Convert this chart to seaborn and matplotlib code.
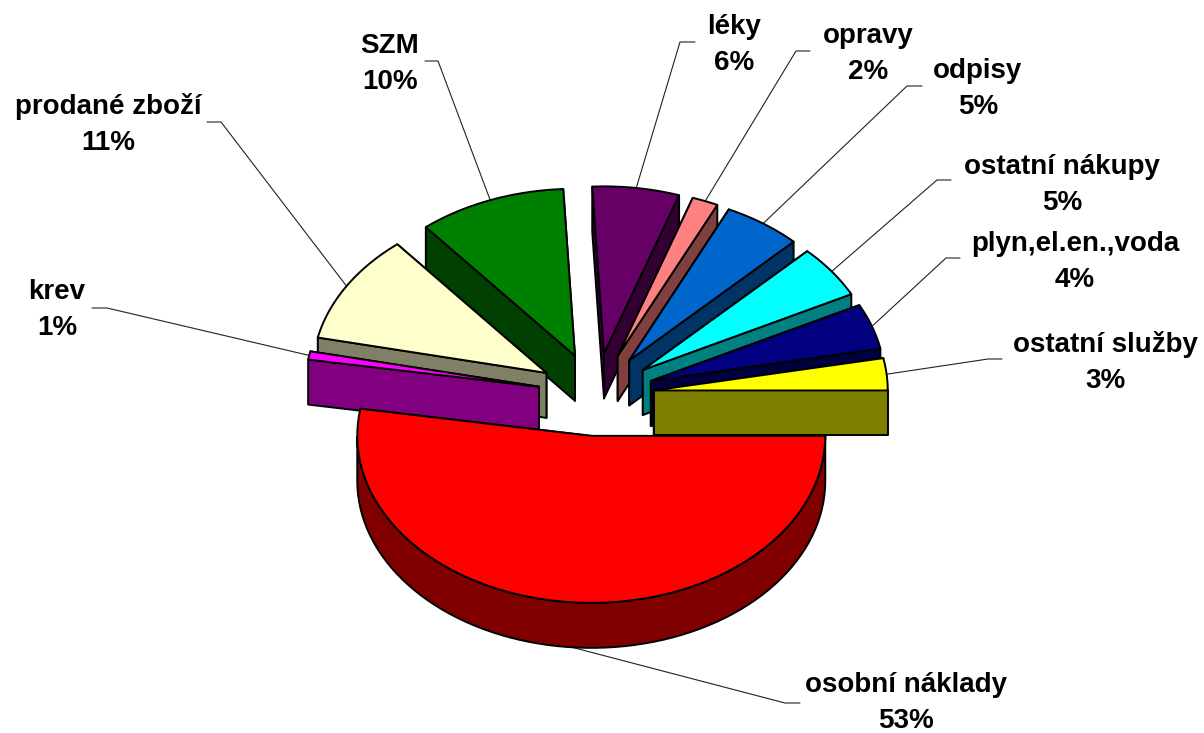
import numpy as np
import matplotlib
matplotlib.use("Agg")
import matplotlib.pyplot as plt
import seaborn as sns

# cost shares in %, clockwise from the east side of the pie
categories = ["osobní náklady", "krev", "prodané zboží", "SZM", "léky", "opravy",
              "odpisy", "ostatní nákupy", "plyn,el.en.,voda", "ostatní služby"]
shares = [52.6, 0.8, 10.6, 10.2, 6.0, 1.8, 5.4, 5.1, 4.4, 3.1]
top_colors = ["#FF0000", "#FF00FF", "#FFFFCC", "#008000", "#660066", "#FF8080",
              "#0066CC", "#00FFFF", "#000080", "#FFFF00"]

# layout, in pixels of the output picture
CX, CY = 596, 394.5    # pie centre before the slices are pulled out
RX, RY = 234, 167      # radii of the top ellipse
EX, EY = 58, 41.5      # how far each slice is pulled out
DEPTH = 45
label_pos = [(906, 703), (57, 310), (108, 124), (390, 64), (734, 45),
             (868, 54), (978, 89), (1062, 185), (1075, 262), (1105, 363)]
elbows = [(785, 703), (107, 308), (221, 122), (438, 61), (680, 42),
          (796, 51), (907, 86), (937, 180), (946, 258), (988, 359)]
ticks = [(800, 703), (92, 308), (207, 122), (425, 61), (695, 42),
         (810, 51), (922, 86), (951, 180), (960, 258), (1002, 359)]

sns.set_theme(style="white")
plt.rcParams["font.family"] = ["Liberation Sans", "DejaVu Sans"]
palette = sns.color_palette(top_colors)

fig = plt.figure(figsize=(12.04, 7.33), dpi=100)
ax = fig.add_axes([0, 0, 1, 1])
ax.set_xlim(0, 1204)
ax.set_ylim(733, 0)
ax.axis("off")


def arc(apex, t0, t1, n=80):
    t = np.radians(np.linspace(t0, t1, n))
    return apex[0] + RX * np.cos(t), apex[1] - RY * np.sin(t)


# angles run clockwise, so they go negative
edges = -3.6 * np.concatenate([[0], np.cumsum(shares)])
slices = []
for i in range(len(shares)):
    mid = np.radians((edges[i] + edges[i + 1]) / 2)
    apex = (CX + EX * np.cos(mid), CY - EY * np.sin(mid))
    slices.append((apex, edges[i], edges[i + 1], palette[i], i))

line = dict(edgecolor="black", linewidth=1.4, joinstyle="round")

# leader lines sit under the pie
for apex, t0, t1, col, i in slices:
    tm = (t0 + t1) / 2
    xm, ym = arc(apex, tm, tm, 1)
    y0 = ym[0] + (DEPTH if np.sin(np.radians(tm)) < 0 else 0)
    ax.plot([xm[0], elbows[i][0], ticks[i][0]], [y0, elbows[i][1], ticks[i][1]],
            color="#222222", lw=0.8, zorder=1)

# painter's order: back slices first, the big front slice last
for apex, t0, t1, col, i in sorted(slices, key=lambda s: s[0][1]):
    side = tuple(np.array(col) * 0.5)
    z = 2 + apex[1] / 1000
    x, y = arc(apex, t0, t1)
    # radial walls, the one lower on the page goes on top
    for xe, ye in sorted([(x[0], y[0]), (x[-1], y[-1])], key=lambda p: p[1]):
        ax.fill([apex[0], xe, xe, apex[0]],
                [apex[1], ye, ye + DEPTH, apex[1] + DEPTH],
                facecolor=side, zorder=z, **line)
    # rim, only the part facing the viewer
    front = np.sin(np.radians(np.linspace(t0, t1, 80))) <= 0
    if front.any():
        ax.fill(np.r_[x[front], x[front][::-1]],
                np.r_[y[front], y[front][::-1] + DEPTH],
                facecolor=side, zorder=z, **line)
    ax.fill(np.r_[apex[0], x], np.r_[apex[1], y],
            facecolor=col, zorder=z, **line)

for name, share, (lx, ly) in zip(categories, shares, label_pos):
    ax.text(lx, ly, f"{name}\n{round(share)}%", ha="center", va="center", fontsize=20,
            fontweight="bold", color="black", linespacing=1.5, zorder=5)

fig.savefig("out.png", dpi=100)
